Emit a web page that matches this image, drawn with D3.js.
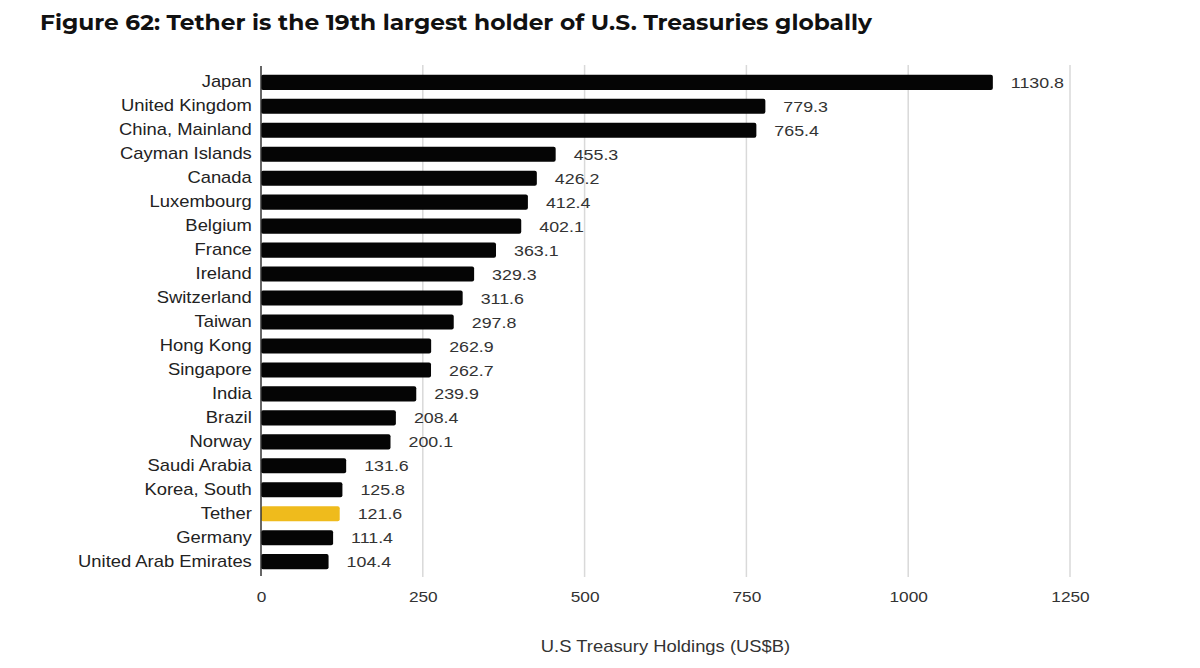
<!DOCTYPE html>
<html>
<head>
<meta charset="utf-8">
<script src="https://cdn.jsdelivr.net/npm/d3@7"></script>
<style>
	body { margin: 0; background: #fff; }
	svg { display: block; }
</style>
</head>
<body>
<svg id="chart" width="1200" height="668"></svg>
<script>
// Chart data
const countries = ["Japan", "United Kingdom", "China, Mainland", "Cayman Islands", "Canada",
	"Luxembourg", "Belgium", "France", "Ireland", "Switzerland", "Taiwan", "Hong Kong",
	"Singapore", "India", "Brazil", "Norway", "Saudi Arabia", "Korea, South", "Tether",
	"Germany", "United Arab Emirates"]
const holdings = [1130.8, 779.3, 765.4, 455.3, 426.2, 412.4, 402.1, 363.1, 329.3, 311.6,
	297.8, 262.9, 262.7, 239.9, 208.4, 200.1, 131.6, 125.8, 121.6, 111.4, 104.4]
const xTicks = [0, 250, 500, 750, 1000, 1250]
const highlight = "Tether"

const titleText = "Figure 62: Tether is the 19th largest holder of U.S. Treasuries globally"
const axisTitle = "U.S Treasury Holdings (US$B)"

const svg = d3.select("#chart")

// Layout (plot area in pixels)
const plotLeft = 261, plotRight = 1070, plotTop = 70, plotBottom = 574
// the source image is a bit stretched sideways, so text gets widened too
const stretch = 1.15
const labelFont = "'Liberation Sans', Arial, sans-serif"

const x = d3.scaleLinear().domain([0, 1250]).range([plotLeft, plotRight])
const y = d3.scaleBand().domain(countries).range([plotTop, plotBottom]).paddingInner(0.37).paddingOuter(0.2)

// Title
svg.append("text")
	.attr("transform", "translate(40,30) scale(1.11,1)")
	.style("font-family", "Montserrat, 'Open Sans', sans-serif")
	.style("font-weight", 700)
	.style("font-size", "21px")
	.style("fill", "#111")
	.text(titleText)

// Grid lines
svg.append("g")
	.selectAll("line")
	.data(xTicks.slice(1))
	.join("line")
	.attr("x1", d => x(d)).attr("x2", d => x(d))
	.attr("y1", 65).attr("y2", 577)
	.style("stroke", "#d9d9d9")
	.style("stroke-width", 1.5)

// x axis tick labels
const xAxis = d3.axisBottom(x).tickValues(xTicks).tickSize(0).tickPadding(0).tickFormat(d3.format("d"))
const gx = svg.append("g")
	.attr("transform", "translate(0," + 591 + ")")
	.call(xAxis)
gx.select(".domain").remove()
gx.selectAll("text")
	.attr("transform", "scale(" + stretch + ",1)")
	.style("font-family", labelFont)
	.style("font-size", "15px")
	.style("fill", "#333")

// y axis labels
const yAxis = d3.axisLeft(y).tickSize(0).tickPadding(8)
const gy = svg.append("g")
	.attr("transform", "translate(" + plotLeft + ",0)")
	.call(yAxis)
gy.select(".domain").remove()
gy.selectAll("text")
	.attr("transform", "scale(" + stretch + ",1)")
	.style("font-family", labelFont)
	.style("font-size", "16px")
	.style("fill", "#222")

// Bars
svg.append("g")
	.selectAll("rect")
	.data(countries)
	.join("rect")
	.attr("x", x(0))
	.attr("y", d => y(d))
	.attr("width", (d, i) => x(holdings[i]) - x(0))
	.attr("height", y.bandwidth())
	.attr("rx", 2)
	.style("fill", d => d === highlight ? "#efbb1c" : "#050505")

// Value labels
svg.append("g")
	.selectAll("text")
	.data(countries)
	.join("text")
	.attr("transform", (d, i) => "translate(" + (x(holdings[i]) + 18) + "," + (y(d) + y.bandwidth() / 2) + ") scale(" + stretch + ",1)")
	.attr("dy", "0.36em")
	.style("font-family", labelFont)
	.style("font-size", "15.5px")
	.style("fill", "#333")
	.text((d, i) => holdings[i].toFixed(1))

// Left axis line
svg.append("line")
	.attr("x1", plotLeft).attr("x2", plotLeft)
	.attr("y1", 66).attr("y2", 576)
	.style("stroke", "#333")
	.style("stroke-width", 1.5)

// Axis title
svg.append("text")
	.attr("transform", "translate(" + ((plotLeft + plotRight) / 2) + ",652) scale(" + stretch + ",1)")
	.attr("text-anchor", "middle")
	.style("font-family", labelFont)
	.style("font-size", "16px")
	.style("fill", "#333")
	.text(axisTitle)
</script>
</body>
</html>
